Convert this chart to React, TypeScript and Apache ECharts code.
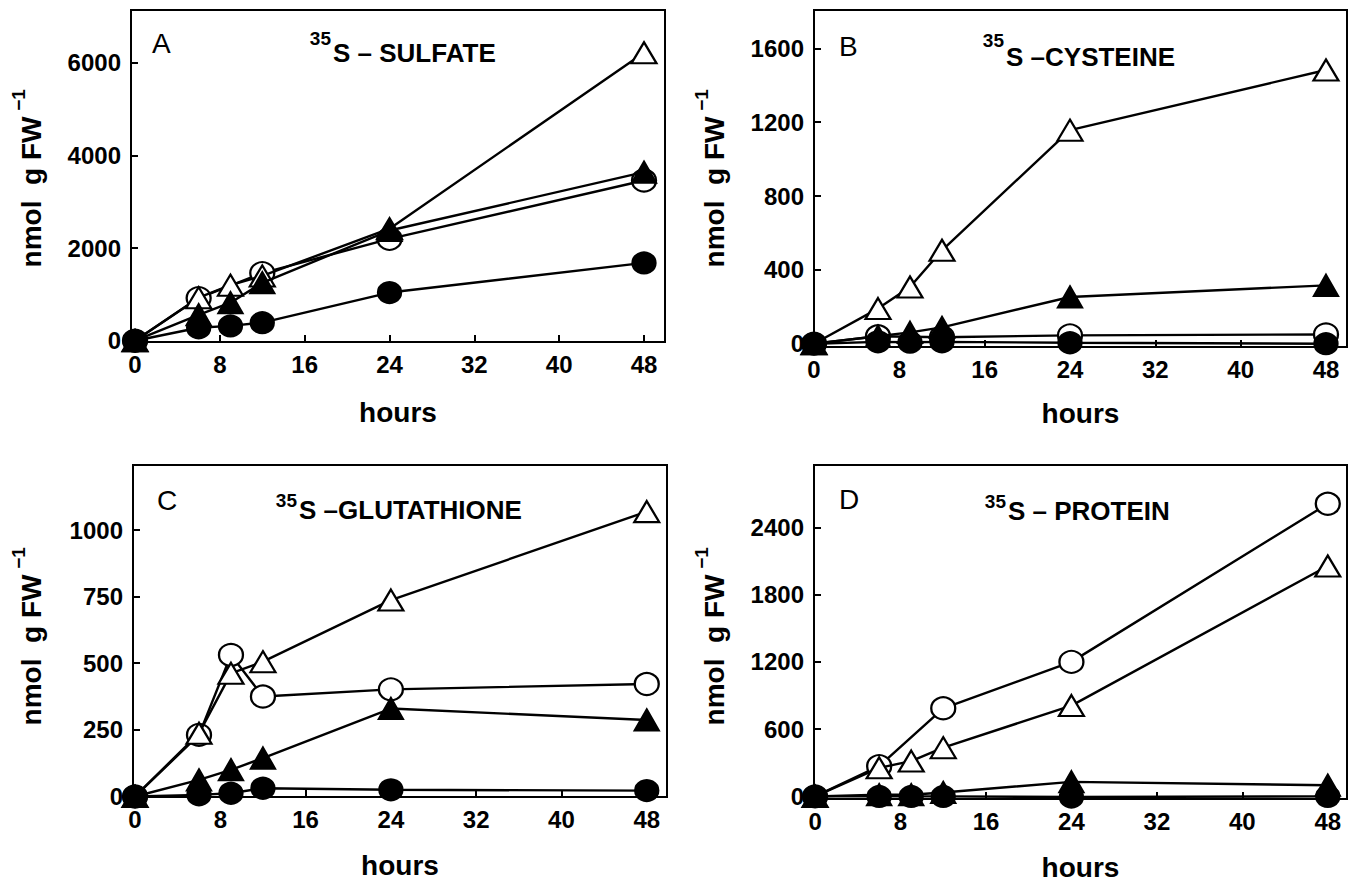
import React, { useEffect, useRef } from "react";
import * as echarts from "echarts";

// ---------- data ----------
const hours = [0, 6, 9, 12, 24, 48];
const xTickValues = [0, 8, 16, 24, 32, 40, 48];

// Panel A: 35S - sulfate
const sulfateOpenCircle = [0, 920, null, 1460, 2200, 3460];
const sulfateOpenTriangle = [0, 930, 1200, 1400, 2420, 6220];
const sulfateFilledTriangle = [0, 560, 820, 1250, 2380, 3640];
const sulfateFilledCircle = [0, 280, 320, 390, 1040, 1680];
const sulfateYTicks = [0, 2000, 4000, 6000];

// Panel B: 35S - cysteine
const cysteineOpenCircle = [0, 40, null, 35, 45, 50];
const cysteineOpenTriangle = [0, 190, 307, 506, 1157, 1483];
const cysteineFilledTriangle = [0, 40, 61, 88, 253, 316];
const cysteineFilledCircle = [0, 10, 8, 10, 5, 0];
const cysteineYTicks = [0, 400, 800, 1200, 1600];

// Panel C: 35S - glutathione
const glutathioneOpenCircle = [0, 231, 531, 375, 402, 422];
const glutathioneOpenTriangle = [0, 237, 462, 506, 737, 1069];
const glutathioneFilledTriangle = [0, 62, 100, 144, 330, 287];
const glutathioneFilledCircle = [0, 6, 12, 31, 25, 22];
const glutathioneYTicks = [0, 250, 500, 750, 1000];

// Panel D: 35S - protein
const proteinOpenCircle = [0, 270, null, 786, 1200, 2610];
const proteinOpenTriangle = [0, 255, 315, 435, 810, 2055];
const proteinFilledTriangle = [0, 15, 15, 35, 130, 100];
const proteinFilledCircle = [0, 0, 0, 0, -5, 0];
const proteinYTicks = [0, 600, 1200, 1800, 2400];

const panelLetters = ["A", "B", "C", "D"];
const panelTitles = ["S \u2013 SULFATE", "S \u2013CYSTEINE", "S \u2013GLUTATHIONE", "S \u2013 PROTEIN"];
const isotopeLabel = "35";
const xAxisName = "hours";
const yAxisName = "nmol\u00a0 g FW";
const yAxisSup = "\u22121";

// ---------- layout / style ----------
const FONT = "'Liberation Sans', Arial, Helvetica, sans-serif";

type Kind = "openCircle" | "openTriangle" | "filledTriangle" | "filledCircle";

const kindStyle: Record<Kind, any> = {
  openCircle: { symbol: "circle", symbolSize: [24, 22], fill: "#fff" },
  openTriangle: { symbol: "triangle", symbolSize: [25, 21], fill: "#fff" },
  filledTriangle: { symbol: "triangle", symbolSize: [24, 21], fill: "#000" },
  filledCircle: { symbol: "circle", symbolSize: [23, 21], fill: "#000" },
};

const panels = [
  {
    grid: { left: 131, top: 10, width: 534, height: 332 },
    x: [-0.38, 49.98], y: [-28, 7143], yTicks: sulfateYTicks, nameGap: 56,
    letter: [152, 43], sup: [331, 38], title: [333, 53], yMain: [31, 192], ySup: [18, 100],
    series: [
      ["openCircle", sulfateOpenCircle], ["openTriangle", sulfateOpenTriangle],
      ["filledTriangle", sulfateFilledTriangle], ["filledCircle", sulfateFilledCircle],
    ],
  },
  {
    grid: { left: 814, top: 10, width: 533, height: 337 },
    x: [0, 49.97], y: [-18, 1808], yTicks: cysteineYTicks, nameGap: 52,
    letter: [839, 46], sup: [1004, 40], title: [1006, 57], yMain: [714, 192], ySup: [701, 100],
    series: [
      ["openCircle", cysteineOpenCircle], ["openTriangle", cysteineOpenTriangle],
      ["filledTriangle", cysteineFilledTriangle], ["filledCircle", cysteineFilledCircle],
    ],
  },
  {
    grid: { left: 133, top: 465, width: 534, height: 332 },
    x: [-0.19, 49.9], y: [-2, 1244], yTicks: glutathioneYTicks, nameGap: 54,
    letter: [157, 500], sup: [297, 500], title: [299, 510], yMain: [31, 650], ySup: [18, 558],
    series: [
      ["openCircle", glutathioneOpenCircle], ["openTriangle", glutathioneOpenTriangle],
      ["filledTriangle", glutathioneFilledTriangle], ["filledCircle", glutathioneFilledCircle],
    ],
  },
  {
    grid: { left: 814, top: 465, width: 533, height: 334 },
    x: [-0.1, 49.8], y: [-23, 2956], yTicks: proteinYTicks, nameGap: 54,
    letter: [839, 499], sup: [1006, 501], title: [1008, 511], yMain: [714, 650], ySup: [701, 558],
    series: [
      ["openCircle", proteinOpenCircle], ["openTriangle", proteinOpenTriangle],
      ["filledTriangle", proteinFilledTriangle], ["filledCircle", proteinFilledCircle],
    ],
  },
];

const plainNumber = (v: number) => String(v);

function buildOption() {
  const grid: any[] = [];
  const xAxis: any[] = [];
  const yAxis: any[] = [];
  const series: any[] = [];
  const graphic: any[] = [];

  panels.forEach((p, i) => {
    grid.push({
      ...p.grid,
      show: true,
      borderColor: "#000",
      borderWidth: 2,
      backgroundColor: "transparent",
      containLabel: false,
      outerBoundsMode: "none",
    });
    xAxis.push({
      type: "value",
      gridIndex: i,
      min: p.x[0],
      max: p.x[1],
      name: xAxisName,
      nameLocation: "middle",
      nameGap: p.nameGap,
      nameTextStyle: { fontFamily: FONT, fontSize: 28, fontWeight: "bold", color: "#000" },
      axisLine: { show: false, onZero: false },
      axisTick: { show: true, inside: true, length: 7, lineStyle: { color: "#000", width: 2 }, customValues: xTickValues },
      axisLabel: { customValues: xTickValues, formatter: plainNumber, fontFamily: FONT, fontSize: 24, fontWeight: "bold", color: "#000", margin: 10 },
      splitLine: { show: false },
    });
    yAxis.push({
      type: "value",
      gridIndex: i,
      min: p.y[0],
      max: p.y[1],
      axisLine: { show: false, onZero: false },
      axisTick: { show: true, inside: true, length: 7, lineStyle: { color: "#000", width: 2 }, customValues: p.yTicks },
      axisLabel: { customValues: p.yTicks, formatter: plainNumber, fontFamily: FONT, fontSize: 24, fontWeight: "bold", color: "#000", margin: 10 },
      splitLine: { show: false },
    });
    p.series.forEach(([kind, values]: any, k: number) => {
      const st = kindStyle[kind as Kind];
      const data: any[] = [];
      hours.forEach((h, j) => {
        if (values[j] !== null && values[j] !== undefined) data.push([h, values[j]]);
      });
      series.push({
        type: "line",
        name: `${panelLetters[i]}-${kind}`,
        xAxisIndex: i,
        yAxisIndex: i,
        data,
        symbol: st.symbol,
        symbolSize: st.symbolSize,
        showSymbol: true,
        clip: false,
        silent: true,
        z: 2 + k,
        lineStyle: { color: "#000", width: 2.4 },
        itemStyle: { color: st.fill, borderColor: "#000", borderWidth: 2.2, opacity: 1 },
        emphasis: { disabled: true },
      });
    });

    graphic.push({
      type: "text", x: p.letter[0], y: p.letter[1], silent: true,
      style: { text: panelLetters[i], fontFamily: FONT, fontSize: 28, fontWeight: "normal", fill: "#000",
        align: "left", verticalAlign: "middle", textAlign: "left", textVerticalAlign: "middle" },
    });
    graphic.push({
      type: "text", x: p.sup[0], y: p.sup[1], silent: true,
      style: { text: isotopeLabel, fontFamily: FONT, fontSize: 19, fontWeight: "bold", fill: "#000",
        align: "right", verticalAlign: "middle", textAlign: "right", textVerticalAlign: "middle" },
    });
    graphic.push({
      type: "text", x: p.title[0], y: p.title[1], silent: true,
      style: { text: panelTitles[i], fontFamily: FONT, fontSize: 26, fontWeight: "bold", fill: "#000",
        align: "left", verticalAlign: "middle", textAlign: "left", textVerticalAlign: "middle" },
    });
    graphic.push({
      type: "text", x: p.yMain[0], y: p.yMain[1], rotation: Math.PI / 2, silent: true,
      style: { text: yAxisName, fontFamily: FONT, fontSize: 28, fontWeight: "bold", fill: "#000",
        align: "center", verticalAlign: "middle", textAlign: "center", textVerticalAlign: "middle" },
    });
    graphic.push({
      type: "text", x: p.ySup[0], y: p.ySup[1], rotation: Math.PI / 2, silent: true,
      style: { text: yAxisSup, fontFamily: FONT, fontSize: 19, fontWeight: "bold", fill: "#000",
        align: "center", verticalAlign: "middle", textAlign: "center", textVerticalAlign: "middle" },
    });
  });

  return {
    animation: false,
    backgroundColor: "#fff",
    textStyle: { fontFamily: FONT },
    grid,
    xAxis,
    yAxis,
    series,
    graphic: { elements: graphic },
  };
}

export default function App() {
  const ref = useRef<HTMLDivElement>(null);
  useEffect(() => {
    if (!ref.current) return;
    const chart = echarts.init(ref.current, null, { renderer: "svg" });
    chart.setOption(buildOption() as any);
    return () => chart.dispose();
  }, []);
  return (
    <div
      ref={ref}
      style={{ position: "fixed", left: 0, top: 0, width: 1349, height: 881, background: "#fff" }}
    />
  );
}
